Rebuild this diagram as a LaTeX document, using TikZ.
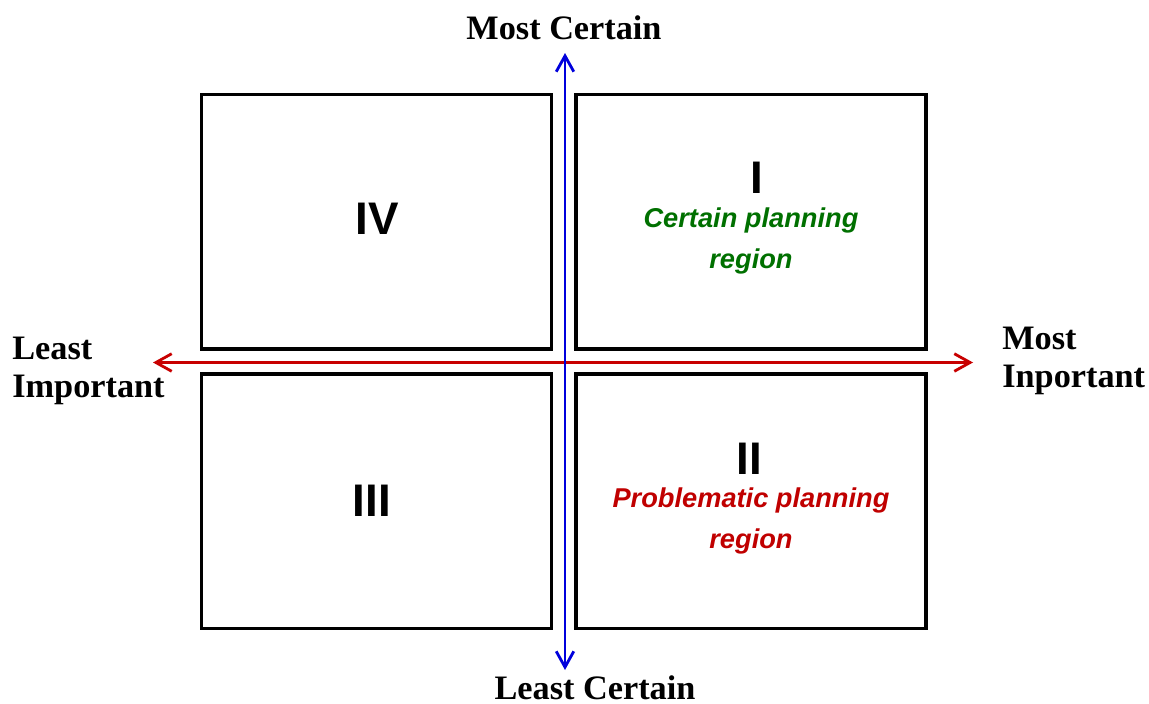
\documentclass[tikz,border=0pt]{standalone}
\usepackage{fontspec}
\setmainfont{Liberation Serif}
\newfontfamily\arialfont{Liberation Sans}
\usepackage{xcolor}
\usetikzlibrary{arrows.meta,positioning}
\definecolor{axisblue}{RGB}{0, 0, 220}
\definecolor{axisred}{RGB}{200, 0, 0}
\definecolor{certgreen}{RGB}{0, 112, 0}
\definecolor{probred}{RGB}{192, 0, 0}

\begin{document}
\begin{tikzpicture}[x=0.02cm,y=-0.02cm,
  quad/.style={draw=black,line width=2pt,minimum width=7cm,minimum height=5.09cm,inner sep=0pt},
  numeral/.style={font=\arialfont\bfseries\fontsize{26}{30}\selectfont,anchor=base,inner sep=0pt},
  regiontext/.style={font=\arialfont\bfseries\itshape\fontsize{15.5}{22.8}\selectfont,align=center,anchor=base,inner sep=0pt},
  axislabel/.style={font=\bfseries\fontsize{19.5}{21.3}\selectfont,inner sep=0pt},
  axisarrow/.style={line width=1.6pt,{Straight Barb[length=9pt,width=10pt]}-{Straight Barb[length=9pt,width=10pt]}}]
\useasboundingbox (0,0) rectangle (1149,703);
% quadrants
\node[quad](q4) at (376.5,221.75){};
\node[quad](q1) at (751,221.75){};
\node[quad](q3) at (376.5,501.25){};
\node[quad](q2) at (751,501.25){};
% axes
\coordinate (ctop) at (565,53);
\coordinate (cbot) at (565,670);
\coordinate (ileft) at (153,362.5);
\coordinate (iright) at (973,362.5);
\draw[axisarrow,axisred](ileft)--(iright);
\draw[axisarrow,axisblue](cbot)--(ctop);
% axis labels
\node[axislabel,anchor=base](mostc) at (564,39){Most Certain};
\node[axislabel,anchor=base](leastc) at (595,699){Least Certain};
\node[axislabel,align=left,anchor=base west](leasti) at (12,397){Least\\Important};
\node[axislabel,align=left,anchor=base west](mosti) at (1002,387){Most\\Inportant};
% numerals and regions
\node[numeral](n4) at (377,234){IV};
\node[numeral](n1) at (757,193){I};
\node[numeral](n3) at (372,516){III};
\node[numeral](n2) at (749,474){II};
\node[regiontext,certgreen](r1) at (751,268){Certain planning\\region};
\node[regiontext,probred](r2) at (751,548){Problematic planning\\region};
\end{tikzpicture}
\end{document}
